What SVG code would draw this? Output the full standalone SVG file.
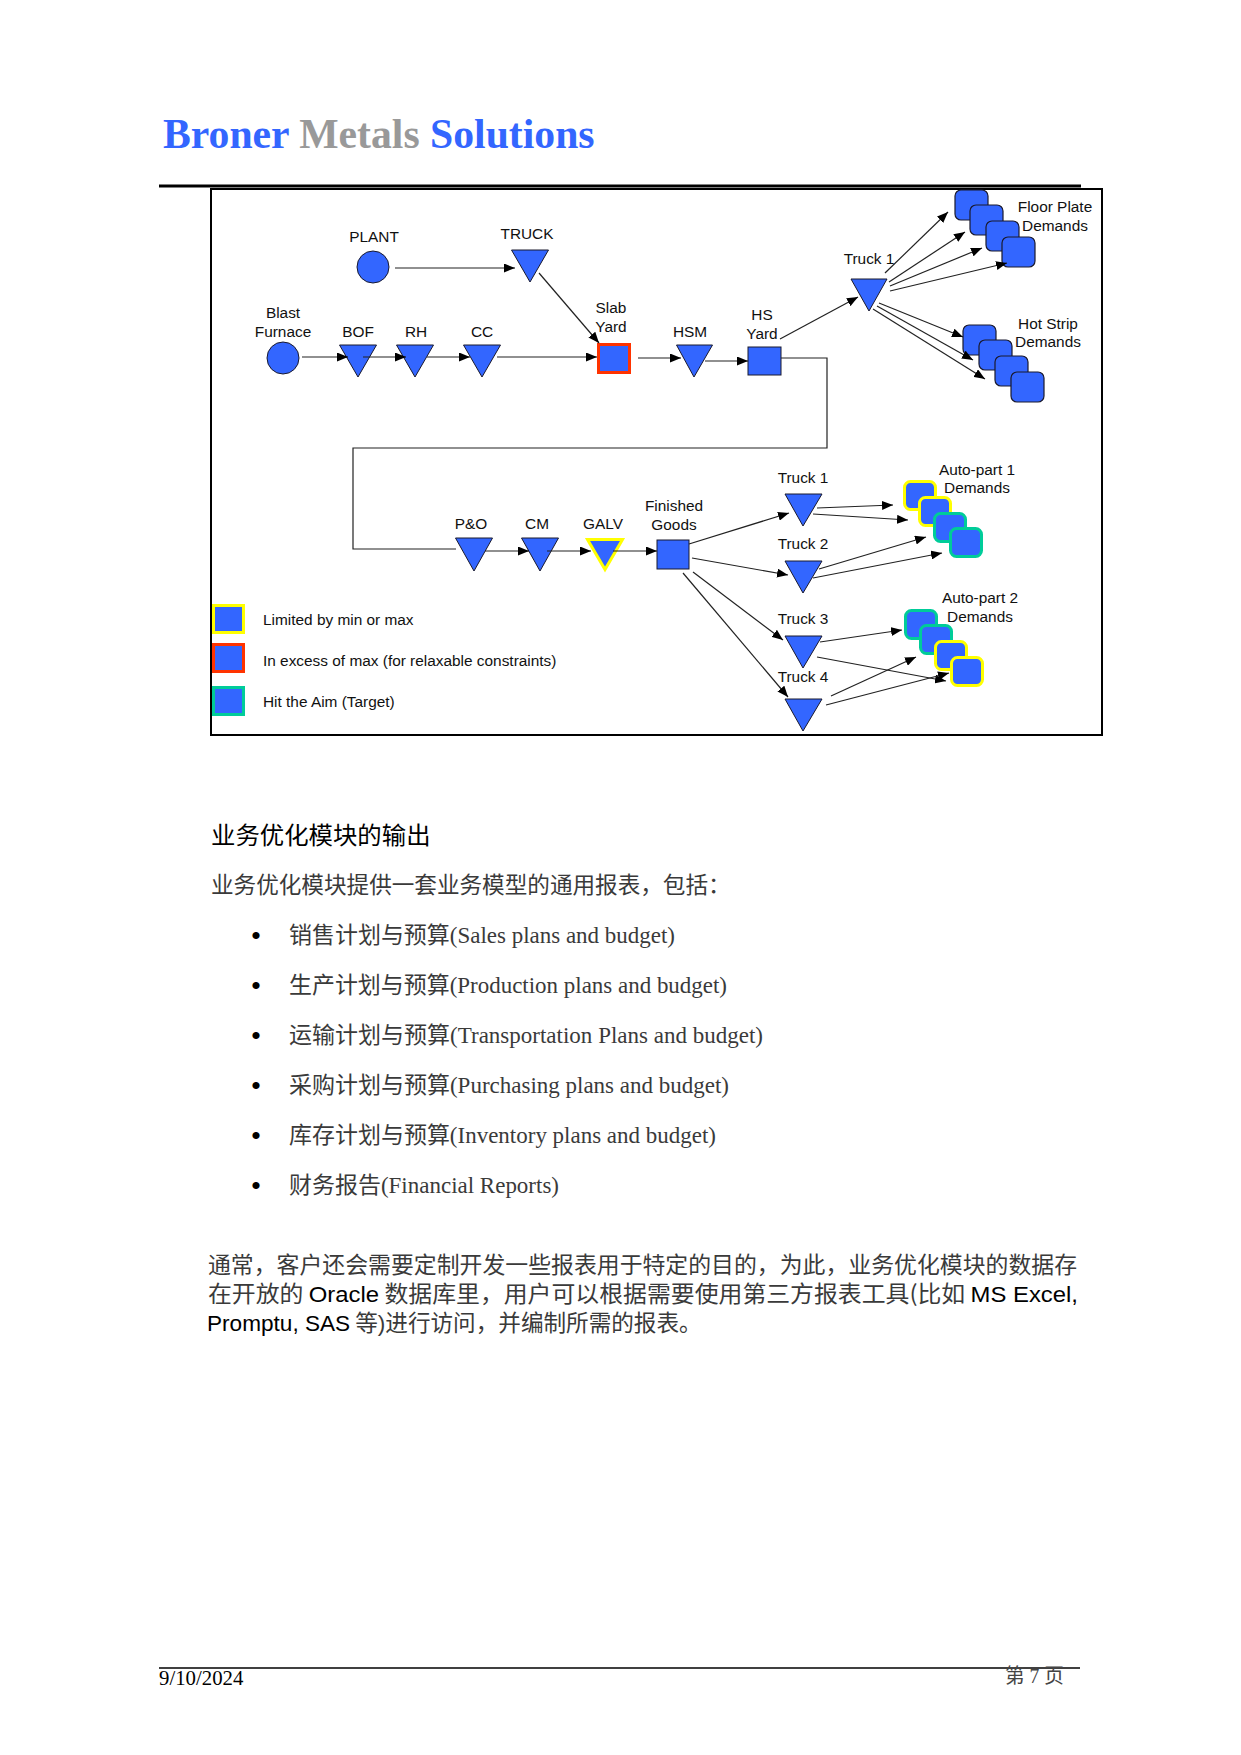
<svg xmlns="http://www.w3.org/2000/svg" width="1241" height="1755" viewBox="0 0 1241 1755">
<style>
.lbl{font-family:"Liberation Sans",Arial,sans-serif;font-size:15.4px;fill:#111;text-anchor:middle}
.leg{font-family:"Liberation Sans",Arial,sans-serif;font-size:15.4px;fill:#111}
.tri{fill:#3366FF;stroke:#1a1a2e;stroke-width:1}
.sq{fill:#3366FF;stroke:#1a1a2e;stroke-width:1}
.dm{fill:#3366FF;stroke:#1a1a2e;stroke-width:1.2}
.y{fill:#3366FF;stroke:#FFFF00;stroke-width:3}
.r{fill:#3366FF;stroke:#FF3300;stroke-width:3}
.t{fill:#3366FF;stroke:#00CC99;stroke-width:3}
.c{stroke:#222;stroke-width:1.2;fill:none}
.a{marker-end:url(#ah)}
.body{font-family:"Liberation Serif","Noto Sans CJK SC",serif;font-size:22.9px;fill:#3a3a3a}
.bul{font-family:"Liberation Serif",serif;font-size:30px;fill:#000;text-anchor:middle}
.cjk{font-family:"Noto Sans CJK SC","Liberation Sans",sans-serif;font-size:22.6px;fill:#3a3a3a}
.sans{font-family:"Liberation Sans",Arial,sans-serif}
</style>
<defs>
<marker id="ah" markerUnits="userSpaceOnUse" markerWidth="11" markerHeight="9" refX="11" refY="4.5" orient="auto" viewBox="0 0 11 9">
<path d="M0,0 L11,4.5 L0,9 z" fill="#000"/>
</marker>
</defs>
<rect width="1241" height="1755" fill="#fff"/>

<g id="header">
<text x="163" y="148" font-family="'Liberation Serif','Times New Roman',serif" font-weight="bold" font-size="41.7px"><tspan fill="#3366FF">Broner </tspan><tspan fill="#999999">Metals </tspan><tspan fill="#3366FF">Solutions</tspan></text>
<line x1="159" y1="186" x2="1081" y2="186" stroke="#000" stroke-width="3"/>
</g>

<rect id="frame" x="211" y="189" width="891" height="546" fill="none" stroke="#000" stroke-width="2"/>

<g id="nodes">
<g id="plant"><circle cx="373" cy="267" r="16" class="sq"/><text class="lbl" x="374" y="242">PLANT</text></g>
<g id="truck"><polygon class="tri" points="511.5,250 548.5,250 530,282"/><text class="lbl" x="527" y="239">TRUCK</text></g>
<g id="blast"><circle cx="283" cy="358" r="16" class="sq"/><text class="lbl" x="283" y="318">Blast</text><text class="lbl" x="283" y="337">Furnace</text></g>
<g id="bof"><polygon class="tri" points="339.5,345 376.5,345 358,377"/><text class="lbl" x="358" y="337">BOF</text></g>
<g id="rh"><polygon class="tri" points="396.5,345 433.5,345 415,377"/><text class="lbl" x="416" y="337">RH</text></g>
<g id="cc"><polygon class="tri" points="463.5,345 500.5,345 482,377"/><text class="lbl" x="482" y="337">CC</text></g>
<g id="slabyard"><rect class="r" x="598.5" y="344.5" width="31" height="28"/><text class="lbl" x="611" y="313">Slab</text><text class="lbl" x="611" y="332">Yard</text></g>
<g id="hsm"><polygon class="tri" points="676.5,345 712.5,345 694,377"/><text class="lbl" x="690" y="337">HSM</text></g>
<g id="hsyard"><rect class="sq" x="748" y="347" width="33" height="28"/><text class="lbl" x="762" y="320">HS</text><text class="lbl" x="762" y="339">Yard</text></g>
<g id="truck1a"><polygon class="tri" points="851,279 887,279 869,311"/><text class="lbl" x="869" y="264">Truck 1</text></g>
<g id="floorplate">
<rect class="dm" x="955" y="190" width="33" height="30" rx="6"/>
<rect class="dm" x="970" y="205" width="33" height="30" rx="6"/>
<rect class="dm" x="986" y="221" width="33" height="30" rx="6"/>
<rect class="dm" x="1002" y="237" width="33" height="30" rx="6"/>
<text class="lbl" x="1055" y="212">Floor Plate</text><text class="lbl" x="1055" y="231">Demands</text>
</g>
<g id="hotstrip">
<rect class="dm" x="963" y="325" width="33" height="30" rx="6"/>
<rect class="dm" x="979" y="340" width="33" height="30" rx="6"/>
<rect class="dm" x="995" y="356" width="33" height="30" rx="6"/>
<rect class="dm" x="1011" y="372" width="33" height="30" rx="6"/>
<text class="lbl" x="1048" y="329">Hot Strip</text><text class="lbl" x="1048" y="347">Demands</text>
</g>
<g id="po"><polygon class="tri" points="455.5,538 492.5,538 474,571"/><text class="lbl" x="471" y="529">P&amp;O</text></g>
<g id="cm"><polygon class="tri" points="521.5,538 558.5,538 540,571"/><text class="lbl" x="537" y="529">CM</text></g>
<g id="galv"><polygon class="y" points="587.5,539.5 622.5,539.5 605,569.5"/><text class="lbl" x="603" y="529">GALV</text></g>
<g id="finished"><rect class="sq" x="657" y="540" width="32" height="29"/><text class="lbl" x="674" y="511">Finished</text><text class="lbl" x="674" y="530">Goods</text></g>
<g id="truck1b"><polygon class="tri" points="785,494 822,494 803,526"/><text class="lbl" x="803" y="483">Truck 1</text></g>
<g id="truck2"><polygon class="tri" points="785,561 822,561 803,593"/><text class="lbl" x="803" y="549">Truck 2</text></g>
<g id="truck3"><polygon class="tri" points="785,636 822,636 803,668"/><text class="lbl" x="803" y="624">Truck 3</text></g>
<g id="truck4"><polygon class="tri" points="785,699 822,699 803,731"/><text class="lbl" x="803" y="682">Truck 4</text></g>
<g id="autopart1">
<rect class="y" x="904.5" y="481.5" width="31" height="28" rx="6"/>
<rect class="y" x="919.5" y="497.5" width="31" height="28" rx="6"/>
<rect class="t" x="934.5" y="513.5" width="31" height="28" rx="6"/>
<rect class="t" x="950.5" y="528.5" width="31" height="28" rx="6"/>
<text class="lbl" x="977" y="475">Auto-part 1</text><text class="lbl" x="977" y="493">Demands</text>
</g>
<g id="autopart2">
<rect class="t" x="905.5" y="610.5" width="31" height="28" rx="6"/>
<rect class="t" x="920.5" y="625.5" width="31" height="28" rx="6"/>
<rect class="y" x="935.5" y="641.5" width="31" height="28" rx="6"/>
<rect class="y" x="951.5" y="657.5" width="31" height="28" rx="6"/>
<text class="lbl" x="980" y="603">Auto-part 2</text><text class="lbl" x="980" y="622">Demands</text>
</g>
</g>

<g id="connectors">
<line class="c a" x1="395" y1="268" x2="515" y2="268"/>
<line class="c a" x1="539" y1="273" x2="599" y2="343"/>
<line class="c a" x1="302" y1="357" x2="348" y2="357"/>
<line class="c a" x1="363" y1="357" x2="406" y2="357"/>
<line class="c a" x1="427" y1="357" x2="470" y2="357"/>
<line class="c a" x1="497" y1="357" x2="597" y2="357"/>
<line class="c a" x1="638" y1="358" x2="681" y2="358"/>
<line class="c a" x1="705" y1="361" x2="748" y2="361"/>
<line class="c a" x1="780" y1="339" x2="858" y2="297"/>
<line class="c a" x1="885" y1="273" x2="948" y2="212"/>
<line class="c a" x1="889" y1="282" x2="965" y2="232"/>
<line class="c a" x1="890" y1="286" x2="982" y2="248"/>
<line class="c a" x1="890" y1="291" x2="1007" y2="263"/>
<line class="c a" x1="879" y1="303" x2="963" y2="337"/>
<line class="c a" x1="877" y1="306" x2="973" y2="360"/>
<line class="c a" x1="873" y1="309" x2="985" y2="379"/>
<polyline class="c" points="781,358 827,358 827,448 353,448 353,549 456,549"/>
<line class="c a" x1="485" y1="551" x2="529" y2="551"/>
<line class="c a" x1="547" y1="551" x2="591" y2="551"/>
<line class="c a" x1="613" y1="551" x2="657" y2="551"/>
<line class="c a" x1="689" y1="544" x2="789" y2="513"/>
<line class="c a" x1="692" y1="558" x2="788" y2="575"/>
<line class="c a" x1="693" y1="572" x2="783" y2="640"/>
<line class="c a" x1="683" y1="573" x2="788" y2="697"/>
<line class="c a" x1="817" y1="508" x2="893" y2="505"/>
<line class="c a" x1="813" y1="514" x2="908" y2="520"/>
<line class="c a" x1="819" y1="569" x2="926" y2="537"/>
<line class="c a" x1="813" y1="578" x2="942" y2="553"/>
<line class="c a" x1="820" y1="642" x2="902" y2="630"/>
<line class="c a" x1="817" y1="657" x2="946" y2="681"/>
<line class="c a" x1="831" y1="696" x2="916" y2="657"/>
<line class="c a" x1="826" y1="705" x2="949" y2="673"/>
</g>

<g id="legend">
<rect class="y" x="213.5" y="605.5" width="30" height="27"/>
<text class="leg" x="263" y="625">Limited by min or max</text>
<rect class="r" x="213.5" y="644.5" width="30" height="27"/>
<text class="leg" x="263" y="666">In excess of max (for relaxable constraints)</text>
<rect class="t" x="213.5" y="687.5" width="30" height="27"/>
<text class="leg" x="263" y="707">Hit the Aim (Target)</text>
</g>

<g id="text">
<text x="211" y="844" font-family="'Noto Sans CJK SC',sans-serif" font-size="24.4px" fill="#000">业务优化模块的输出</text>
<text class="cjk" x="211" y="893">业务优化模块提供一套业务模型的通用报表，包括：</text>
<text class="bul" x="256" y="946">•</text>
<text class="body" x="289" y="943" textLength="386" lengthAdjust="spacingAndGlyphs">销售计划与预算(Sales plans and budget)</text>
<text class="bul" x="256" y="996">•</text>
<text class="body" x="289" y="993" textLength="438" lengthAdjust="spacingAndGlyphs">生产计划与预算(Production plans and budget)</text>
<text class="bul" x="256" y="1046">•</text>
<text class="body" x="289" y="1043" textLength="474" lengthAdjust="spacingAndGlyphs">运输计划与预算(Transportation Plans and budget)</text>
<text class="bul" x="256" y="1096">•</text>
<text class="body" x="289" y="1093" textLength="440" lengthAdjust="spacingAndGlyphs">采购计划与预算(Purchasing plans and budget)</text>
<text class="bul" x="256" y="1146">•</text>
<text class="body" x="289" y="1143" textLength="427" lengthAdjust="spacingAndGlyphs">库存计划与预算(Inventory plans and budget)</text>
<text class="bul" x="256" y="1196">•</text>
<text class="body" x="289" y="1193" textLength="270" lengthAdjust="spacingAndGlyphs">财务报告(Financial Reports)</text>
<text class="cjk" x="208" y="1273" textLength="869" lengthAdjust="spacingAndGlyphs">通常，客户还会需要定制开发一些报表用于特定的目的，为此，业务优化模块的数据存</text>
<text class="cjk" x="208" y="1302" textLength="870" lengthAdjust="spacingAndGlyphs">在开放的 <tspan class="sans" fill="#000">Oracle</tspan> 数据库里，用户可以根据需要使用第三方报表工具(比如 <tspan class="sans" fill="#000">MS Excel,</tspan></text>
<text class="cjk" x="207" y="1331"><tspan class="sans" fill="#000">Promptu, SAS</tspan> 等<tspan class="sans">)</tspan>进行访问，并编制所需的报表。</text>
</g>

<g id="footer">
<line x1="159" y1="1668" x2="1080" y2="1668" stroke="#000" stroke-width="1.5"/>
<text x="159" y="1685" font-family="'Liberation Serif',serif" font-size="20.8px" fill="#000">9/10/2024</text>
<text x="1005" y="1683" textLength="59" lengthAdjust="spacingAndGlyphs" font-family="'Liberation Serif','Noto Sans CJK SC',serif" font-size="20.8px" fill="#444">第 7 页</text>
</g>
</svg>
